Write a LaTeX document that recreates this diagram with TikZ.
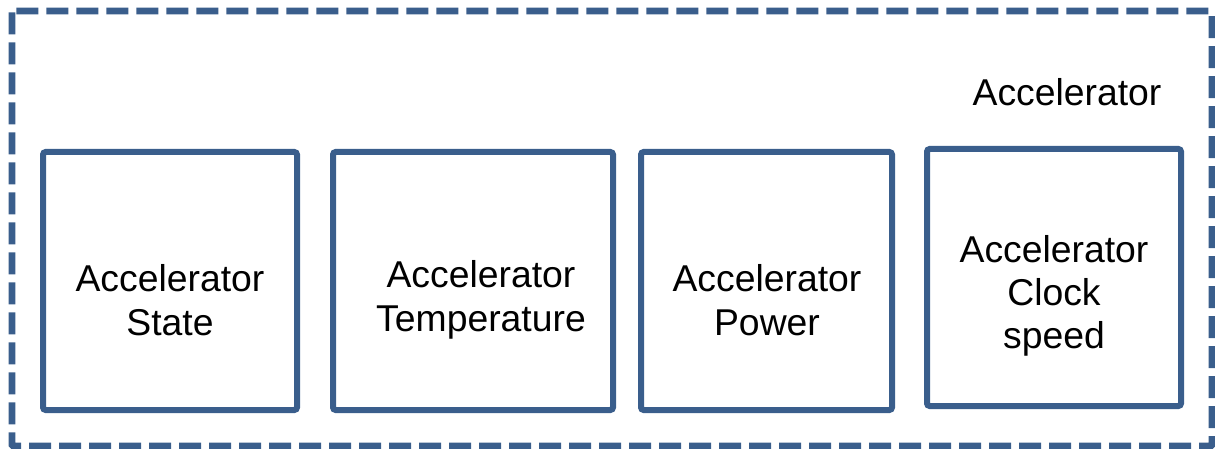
\documentclass[tikz,border=0pt]{standalone}
\usepackage{fontspec}
\setmainfont{Liberation Sans}
\definecolor{boxblue}{RGB}{58,94,140}
\begin{document}
\begin{tikzpicture}[x=0.75pt,y=-0.75pt,
  outer/.style={draw=boxblue,line width=5.2pt,dash pattern=on 16.5pt off 6pt,rounded corners=1pt},
  inbox/.style={draw=boxblue,line width=4.5pt,rounded corners=2pt},
  lbl/.style={font=\fontsize{28}{32.5}\selectfont,align=center,inner sep=0pt,text=black}]
\useasboundingbox (0,0) rectangle (1215,449);
\draw[outer] (12,11) rectangle (1212,446);
\node[lbl] (title) at (1067,92) {Accelerator};
\draw[inbox] (43,152) rectangle (297,410) coordinate (b1);
\draw[inbox] (333,152) rectangle (613,410) coordinate (b2);
\draw[inbox] (641,152) rectangle (892,410) coordinate (b3);
\draw[inbox] (927,149) rectangle (1181,406) coordinate (b4);
\node[lbl] (t1) at (170,300) {Accelerator\\State};
\node[lbl] (t2) at (481,300) {Accelerator\\Temperature};
\node[lbl] (t3) at (767,300) {Accelerator\\Power};
\node[lbl] (t4) at (1054,296) {Accelerator\\Clock\\speed};
\end{tikzpicture}
\end{document}
